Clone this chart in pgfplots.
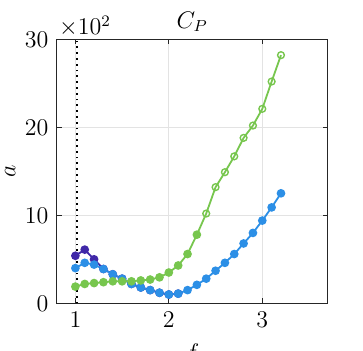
\documentclass[border=0pt,12pt]{standalone}
\usepackage{pgfplots}
\pgfplotsset{compat=1.18}
\definecolor{cpgreen}{RGB}{119,198,78}
\definecolor{cpblue}{RGB}{44,143,230}
\definecolor{cppurple}{RGB}{64,40,168}
\definecolor{axgray}{RGB}{38,38,38}
\begin{document}
\begin{tikzpicture}
\begin{axis}[
    scale only axis,
    width=135.5pt, height=132pt,
    xmin=0.8, xmax=3.7, ymin=0, ymax=30,
    xtick={1,2,3}, ytick={0,10,20,30},
    xlabel={$f$}, ylabel={$a$},
    title={$C_P$},
    every axis title shift=0pt,
    title style={at={(0.5,1)}, anchor=south, yshift=-0.5pt},
    grid=major, grid style={gray!22, line width=0.4pt},
    axis line style={axgray, line width=0.5pt},
    tick style={axgray, line width=0.5pt},
    major tick length=2.5pt,
    tick label style={font=\normalsize},
    label style={font=\normalsize},
    ylabel style={yshift=-3.5pt},
    every axis plot/.append style={line width=0.9pt},
    clip=false,
]
\addplot[black, dotted, line width=1pt, forget plot] coordinates {(1.02,0) (1.02,30)};
% purple branch (continues under the blue one)
\addplot[cppurple, mark=*, mark size=1.7pt, mark options={fill=cppurple, draw=cppurple}] coordinates {
    (1.0,5.4) (1.1,6.1) (1.2,5.0) (1.3,3.9) (1.4,3.3) (1.5,2.8) (1.6,2.2)
    (1.7,1.8) (1.8,1.5) (1.9,1.2) (2.0,1.0) (2.1,1.1)};
% blue branch
\addplot[cpblue, mark=*, mark size=1.7pt, mark options={fill=cpblue, draw=cpblue}] coordinates {
    (1.0,4.0) (1.1,4.6) (1.2,4.4) (1.3,3.9) (1.4,3.3) (1.5,2.8) (1.6,2.2)
    (1.7,1.8) (1.8,1.5) (1.9,1.2) (2.0,1.0) (2.1,1.1) (2.2,1.5) (2.3,2.1)
    (2.4,2.8) (2.5,3.7) (2.6,4.6) (2.7,5.6) (2.8,6.8) (2.9,8.0) (3.0,9.4)
    (3.1,10.9) (3.2,12.5)};
% green branch: line, then stable (filled) and unstable (open) points
\addplot[cpgreen, mark=none] coordinates {
    (1.0,1.9) (1.1,2.2) (1.2,2.3) (1.3,2.4) (1.4,2.5) (1.5,2.5) (1.6,2.5)
    (1.7,2.6) (1.8,2.7) (1.9,2.95) (2.0,3.5) (2.1,4.3) (2.2,5.6) (2.3,7.8)
    (2.4,10.2) (2.5,13.2) (2.6,14.9) (2.7,16.7) (2.8,18.8) (2.9,20.2)
    (3.0,22.1) (3.1,25.2) (3.2,28.2)};
\addplot[only marks, mark=*, mark size=1.7pt, mark options={fill=cpgreen, draw=cpgreen}] coordinates {
    (1.0,1.9) (1.1,2.2) (1.2,2.3) (1.3,2.4) (1.4,2.5) (1.5,2.5) (1.6,2.5)
    (1.7,2.6) (1.8,2.7) (1.9,2.95) (2.0,3.5) (2.1,4.3) (2.2,5.6) (2.3,7.8)};
\addplot[only marks, mark=o, mark size=1.7pt, mark options={fill=white, draw=cpgreen, line width=0.7pt}] coordinates {
    (2.4,10.2) (2.5,13.2) (2.6,14.9) (2.7,16.7) (2.8,18.8) (2.9,20.2)
    (3.0,22.1) (3.1,25.2) (3.2,28.2)};
\node[anchor=south west, inner sep=1pt, font=\normalsize] at (rel axis cs:0,1) {$\times10^2$};
\end{axis}
\pgfresetboundingbox
\useasboundingbox (-28.35pt,-23.35pt) rectangle (153.15pt,151.65pt);
\end{tikzpicture}
\end{document}
